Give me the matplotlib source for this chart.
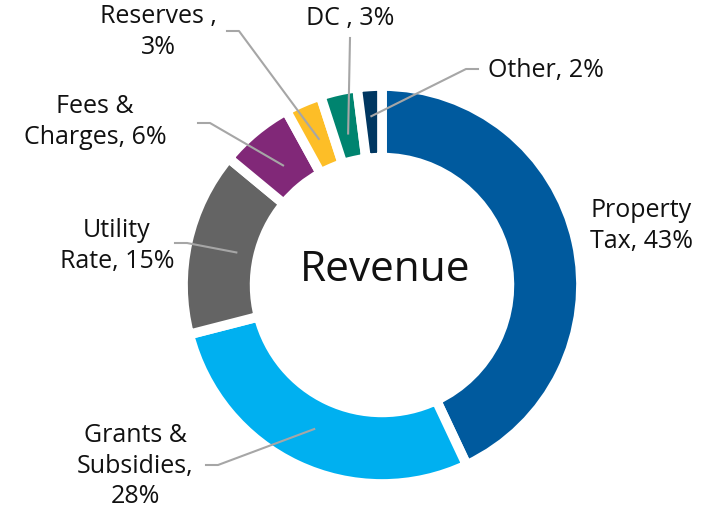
import numpy as np
import matplotlib.pyplot as plt

# donnees
categories = ["Property Tax", "Grants & Subsidies", "Utility Rate", "Fees & Charges",
              "Reserves ", "DC ", "Other"]
valeurs = [43, 28, 15, 6, 3, 3, 2]
etiquettes = ["Property\nTax, 43%", "Grants &\nSubsidies,\n28%", "Utility\nRate, 15%",
              "Fees &\nCharges, 6%", "Reserves ,\n3%", "DC , 3%", "Other, 2%"]
couleurs = ["#005A9E", "#00B0F0", "#646464", "#812878", "#FDBE27", "#00846F", "#003761"]

plt.rcParams['font.family'] = ['Open Sans', 'DejaVu Sans']

W, H = 712, 511
fig = plt.figure(figsize=(W/100, H/100), dpi=100)
ax = fig.add_axes([0, 0, 1, 1])
ax.set_xlim(0, W)
ax.set_ylim(0, H)
ax.set_aspect('equal')
ax.axis('off')

cx, cy, R = 382, H - 285, 199
wedges, _ = ax.pie(valeurs, colors=couleurs, startangle=90, counterclock=False,
                   center=(cx, cy), radius=R, frame=False,
                   wedgeprops=dict(width=R*0.36, edgecolor='white', linewidth=7))
ax.set_xlim(0, W)
ax.set_ylim(0, H)

ax.text(cx + 3, cy + 15, "Revenue", ha='center', va='center', fontsize=30.5, color='#111111')

# position des textes (pixels, haut = 0) et coudes des lignes
pos_texte = [(641, 226), (135, 466), (117, 246), (95, 122), (158, 32), (350, 18), (488, 70)]
coudes = [None, (206, 465), (175, 243), (198, 123), (227, 31), (350, 38), (478, 69)]
rayon_fleche = [0, 0.8, 0.75, 0.78, 0.8, 0.78, 0.85]

for i, w in enumerate(wedges):
    tx, ty = pos_texte[i]
    ha = 'left' if i == 6 else 'center'
    ax.text(tx, H - ty, etiquettes[i], ha=ha, va='center', fontsize=18,
            color='#111111', linespacing=1.27)
    if coudes[i] is None:
        continue
    ang = np.deg2rad((w.theta1 + w.theta2) / 2)
    r = R * rayon_fleche[i]
    px, py = cx + r*np.cos(ang), cy + r*np.sin(ang)
    kx, ky = coudes[i]
    ky = H - ky
    if i == 5:
        ax.plot([kx, px], [ky, py], color='#A6A6A6', lw=1.5)
    else:
        dx = 12 if kx < cx else -12
        ax.plot([kx, kx + dx, px], [ky, ky, py], color='#A6A6A6', lw=1.5)

fig.savefig("out.png", dpi=100)
